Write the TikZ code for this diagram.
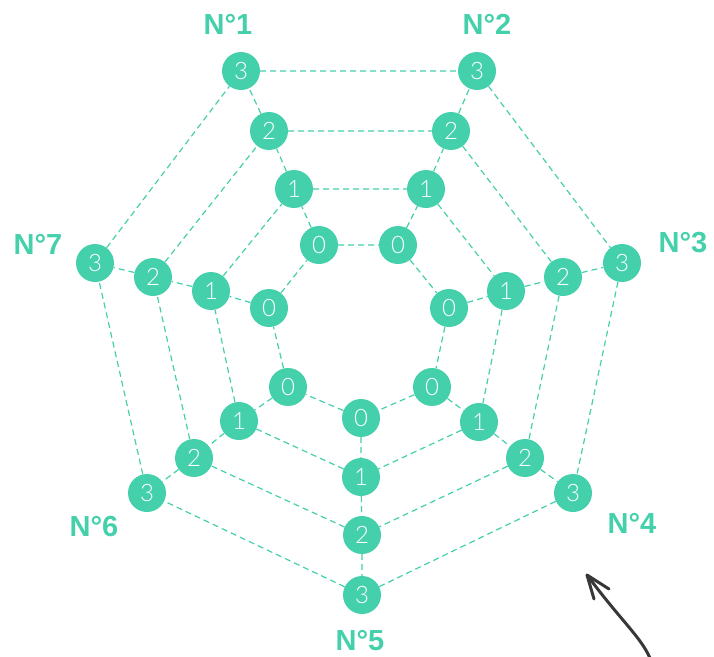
\documentclass[tikz,border=0pt]{standalone}
\usepackage{fontspec}
\setmainfont{Liberation Sans}
\newfontfamily\numfont{Lato Light}
\definecolor{teal}{HTML}{45D0AC}
\definecolor{arrowgray}{HTML}{383838}
\begin{document}
\begin{tikzpicture}[x=1pt,y=-1pt,
  dot/.style={circle,fill=teal,minimum size=38pt,inner sep=0pt,text=white,font=\numfont\fontsize{24}{24}\selectfont},
  lbl/.style={text=teal,font=\bfseries\fontsize{29}{29}\selectfont,inner sep=0pt},
  link/.style={draw=teal,dash pattern=on 6pt off 4pt,line width=1.2pt}]
\useasboundingbox (0,0) rectangle (714,656);
% ring 3
\node[dot] (a3) at (241,71) {3};
\node[dot] (b3) at (477,71) {3};
\node[dot] (c3) at (622,263) {3};
\node[dot] (d3) at (573,493) {3};
\node[dot] (e3) at (362,595) {3};
\node[dot] (f3) at (147,493) {3};
\node[dot] (g3) at (95,263) {3};
% ring 2
\node[dot] (a2) at (269,131) {2};
\node[dot] (b2) at (451,131) {2};
\node[dot] (c2) at (563,277) {2};
\node[dot] (d2) at (525,458) {2};
\node[dot] (e2) at (362,535) {2};
\node[dot] (f2) at (194,458) {2};
\node[dot] (g2) at (153,277) {2};
% ring 1
\node[dot] (a1) at (294,189) {1};
\node[dot] (b1) at (426,189) {1};
\node[dot] (c1) at (506,291) {1};
\node[dot] (d1) at (479,422) {1};
\node[dot] (e1) at (361,477) {1};
\node[dot] (f1) at (239,421) {1};
\node[dot] (g1) at (211,291) {1};
% ring 0
\node[dot] (a0) at (319,245) {0};
\node[dot] (b0) at (398,245) {0};
\node[dot] (c0) at (449,308) {0};
\node[dot] (d0) at (432,387) {0};
\node[dot] (e0) at (361,418) {0};
\node[dot] (f0) at (288,387) {0};
\node[dot] (g0) at (269,308) {0};
% labels
\node[lbl] (la) at (228,24) {N°1};
\node[lbl] (lb) at (487,24) {N°2};
\node[lbl] (lc) at (683,243) {N°3};
\node[lbl] (ld) at (632,523) {N°4};
\node[lbl] (le) at (360,641) {N°5};
\node[lbl] (lf) at (94,527) {N°6};
\node[lbl] (lg) at (38,244) {N°7};
% links
\foreach \r in {0,1,2,3}{
  \draw[link] (a\r) -- (b\r) -- (c\r) -- (d\r) -- (e\r) -- (f\r) -- (g\r) -- (a\r);
}
\foreach \s in {a,b,c,d,e,f,g}{
  \draw[link] (\s0) -- (\s1) -- (\s2) -- (\s3);
}
% arrow
\coordinate (tip) at (587,575);
\coordinate (tail) at (650,658);
\coordinate (h1) at (609,589);
\coordinate (h2) at (594,599);
\draw[arrowgray,line width=3pt,line cap=round] (tail) .. controls (640,636) and (622,622) .. (tip);
\draw[arrowgray,line width=3pt,line cap=round,line join=round] (h1) -- (tip) -- (h2);
\end{tikzpicture}
\end{document}
